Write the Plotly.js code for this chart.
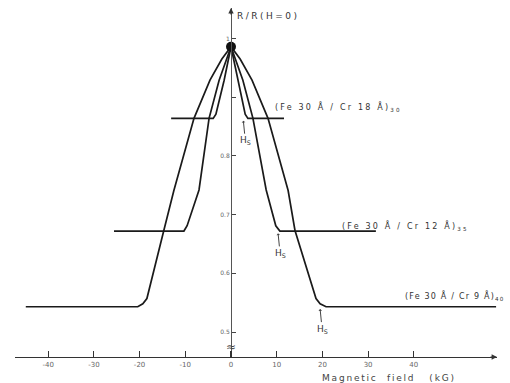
<!DOCTYPE html>
<html>
<head>
<meta charset="utf-8">
<script src="https://cdn.plot.ly/plotly-3.0.1.min.js"></script>
<style>html,body{margin:0;padding:0;background:#fff;}#chart{width:510px;height:383px;}</style>
</head>
<body>
<div id="chart"></div>
<script>
// Magnetic field (kG) and R/R(H=0)
const field9 = [-44.9, -20.4, -19.3, -18.4, -14.7, -12.5, -8.1, -4.6, -2.0, 0, 2.0, 4.6, 8.1, 12.5, 14.0, 18.6, 19.5, 20.8, 58.0];
const ratio9 = [0.543, 0.543, 0.548, 0.557, 0.673, 0.741, 0.864, 0.929, 0.965, 0.986, 0.965, 0.929, 0.864, 0.741, 0.673, 0.557, 0.548, 0.543, 0.543];

const field12 = [-25.6, -10.3, -9.6, -7.0, -4.8, -2.6, 0, 2.6, 4.8, 7.7, 9.8, 10.7, 31.7];
const ratio12 = [0.672, 0.672, 0.681, 0.742, 0.864, 0.929, 0.986, 0.929, 0.864, 0.742, 0.681, 0.672, 0.672];

const field18 = [-13.1, -3.9, -3.3, -1.5, 0, 1.5, 3.1, 3.7, 11.6];
const ratio18 = [0.864, 0.864, 0.871, 0.929, 0.986, 0.929, 0.871, 0.864, 0.864];

const peakField = [0];
const peakRatio = [0.986];

const xTickVals = [-40, -30, -20, -10, 0, 10, 20, 30, 40];
const xTickText = ['-40', '-30', '-20', '-10', '0', '10', '20', '30', '40'];
const yTickVals = [0.5, 0.6, 0.7, 0.8, 0.9, 1.0];
const yTickText = ['0.5', '0.6', '0.7', '0.8', '', '1'];

const seriesLabels = ['(Fe 30 Å / Cr 18 Å)<sub>30</sub>', '(Fe 30 Å / Cr 12 Å)<sub>35</sub>', '(Fe 30 Å / Cr 9 Å)<sub>40</sub>'];
const labelField = [9.2, 23.8, 37.6];
const labelRatio = [0.884, 0.680, 0.562];
const labelSpacing = [2.2, 2.2, 1.2];
const hsField = [2.7, 10.3, 19.5];
const hsRatio = [0.860, 0.668, 0.539];

const xRange = [-47.26, 58.2];
const yRange = [0.4574, 1.052];

const lineStyle = {color: '#1a1a1a', width: 1.7};
const traces = [
  {x: field9, y: ratio9, mode: 'lines', line: lineStyle, hoverinfo: 'skip'},
  {x: field12, y: ratio12, mode: 'lines', line: lineStyle, hoverinfo: 'skip'},
  {x: field18, y: ratio18, mode: 'lines', line: lineStyle, hoverinfo: 'skip'},
  {x: peakField, y: peakRatio, mode: 'markers', marker: {color: '#111', size: 10}, hoverinfo: 'skip'}
];

const spaced = (t, px) => '<span style="letter-spacing:' + px + 'px">' + t + '</span>';
const txtFont = {family: 'DejaVu Sans', size: 8, color: '#333'};
const annotations = [];
seriesLabels.forEach((t, i) => {
  annotations.push({x: labelField[i], y: labelRatio[i], xref: 'x', yref: 'y', text: spaced(t, labelSpacing[i]), showarrow: false,
    xanchor: 'left', yanchor: 'middle', font: txtFont});
});
hsField.forEach((f, i) => {
  annotations.push({x: f, y: hsRatio[i], xref: 'x', yref: 'y', text: 'H<sub>S</sub>', showarrow: true,
    ax: 2, ay: 20, arrowhead: 1, arrowsize: 0.6, arrowwidth: 1, arrowcolor: '#444',
    font: {family: 'DejaVu Sans', size: 9, color: '#333'}});
});
// axis arrowheads
annotations.push({x: 0, y: yRange[1], xref: 'x', yref: 'y', text: '', showarrow: true, ax: 0, ay: 8,
  arrowhead: 2, arrowsize: 0.9, arrowwidth: 1.2, arrowcolor: '#333'});
annotations.push({x: xRange[1], y: yRange[0], xref: 'x', yref: 'y', text: '', showarrow: true, ax: -8, ay: 0,
  arrowhead: 2, arrowsize: 0.9, arrowwidth: 1.2, arrowcolor: '#333'});
// axis labels
annotations.push({x: 0, y: yRange[1], xref: 'x', yref: 'y', text: spaced('R/R(H=0)', 2.5), showarrow: false,
  xanchor: 'left', yanchor: 'top', xshift: 4, yshift: -1, font: {family: 'DejaVu Sans', size: 9, color: '#333'}});
annotations.push({x: 19.5, y: 0, xref: 'x', yref: 'paper', text: spaced('Magnetic  field   (kG)', 1.8), showarrow: false,
  xanchor: 'left', yanchor: 'top', yshift: -14, font: {family: 'DejaVu Sans', size: 9, color: '#444'}});
// axis break mark
annotations.push({x: 0, y: 0.475, xref: 'x', yref: 'y', text: '≈', showarrow: false,
  font: {family: 'DejaVu Sans', size: 12, color: '#444'}});

const layout = {
  width: 510, height: 383,
  margin: {l: 15, r: 13, t: 8, b: 26},
  paper_bgcolor: '#fff', plot_bgcolor: '#fff',
  showlegend: false,
  xaxis: {range: xRange, showgrid: false, zeroline: false, showline: true, linecolor: '#333', linewidth: 1.2,
    ticks: 'inside', ticklen: 6, tickwidth: 1.2, tickcolor: '#333', tickvals: xTickVals, ticktext: xTickText,
    tickfont: {family: 'DejaVu Sans', size: 7, color: '#666'}, fixedrange: true},
  yaxis: {range: yRange, anchor: 'free', position: 0.4481, showgrid: false, zeroline: false, showline: true,
    linecolor: '#555', linewidth: 1, ticks: 'inside', ticklen: 4, tickwidth: 1, tickcolor: '#444',
    tickvals: yTickVals, ticktext: yTickText, tickfont: {family: 'DejaVu Sans', size: 6, color: '#666'}, fixedrange: true},
  annotations: annotations
};

Plotly.newPlot('chart', traces, layout, {staticPlot: true, displayModeBar: false});
</script>
</body>
</html>
